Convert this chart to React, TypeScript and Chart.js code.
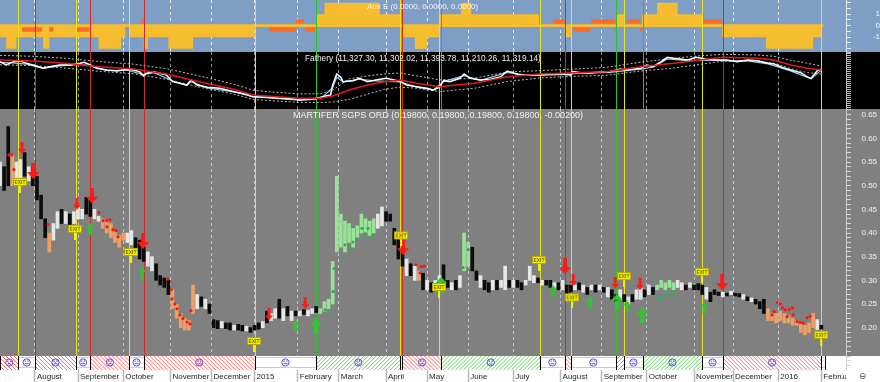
import React, { useEffect, useRef } from 'react';
import { Chart, registerables } from 'chart.js';

Chart.register(...registerables);

const FONT = '"Liberation Sans", Arial, sans-serif';
const AXIS_W = 34;
const X_MIN = 0;
const X_MAX = 412;
const STRIP_H = 14;

// ---------- time axis (trading-day index) ----------
const monthDays = [17, 38, 60, 83, 103, 124, 145, 165, 188, 208, 228, 250, 273, 293, 315, 338, 357, 379, 400];
const monthLabels = ['August', 'September', 'October', 'November', 'December', '2015', 'February', 'March', 'April', 'May', 'June', 'July', 'August', 'September', 'October', 'November', 'December', '2016', 'February'];

// ---------- signal lines ----------
const signalDays = [9, 17, 37, 44, 63, 70, 124, 154, 195, 196, 214, 215, 263, 275, 278, 300, 304, 313, 342, 352, 400];
const signalKinds = ['y', 'r', 'y', 'r', 'y', 'r', 'y', 'g', 'y', 'r', 'y', 'g', 'y', 'r', 'y', 'g', 'y', 'g', 'y', 'r', 'y'];

// ---------- regime strip ----------
const regimeStart = [0, 9, 17, 37, 44, 63, 70, 124, 154, 195, 196, 215, 263, 275, 278, 300, 304, 313, 342, 352, 400];
const regimeEnd = [9, 17, 37, 44, 63, 70, 124, 154, 195, 196, 215, 263, 275, 278, 300, 304, 313, 342, 352, 400, 402];
const regimeKind = ['s', 'n', 's', 'n', 's', 'n', 's', 'n', 'b', 'n', 's', 'b', 'n', 's', 'n', 'b', 'n', 'b', 'n', 's', 'n'];

// ---------- Aux E ----------
const auxStartDays = [0, 3, 8, 21, 24, 48, 59, 61, 63, 70, 72, 82, 94, 124, 154, 158, 185, 195, 196, 202, 208, 214, 224.5, 229.5, 262.5, 275, 278, 300.5, 304, 312.7, 320, 330, 342, 351.7, 373, 396, 400];
const auxValues = [-1, -2, -1, -2, -1, -2, -1, 0, -1, -2, -1, -2, -1, 0, 1, 2, 1, 0, -1, -2, -1, 1, 2, 1, 0, -1, 0, 1, 0, 1, 2, 1, 0, -1, -2, -1, 0];
const auxUpBlocks = [[44, 45], [69, 70], [144, 148], [269.5, 275], [288, 299.5], [305.5, 311.7], [342.5, 351.7]];
const auxDownBlocks = [[10.7, 20.5], [24, 26], [37.5, 43.5], [131, 144], [148.5, 153.5], [279, 287.5], [299.5, 300.5], [311.7, 312.7]];
const AUX_UP = [0.2, 0.56];
const AUX_DOWN = [-0.14, -0.52];

// ---------- Fathery index ----------
const idxDays = [0, 3, 6.5, 10, 13, 16, 21, 24, 29, 34, 39, 41, 44, 47, 52, 57, 62, 65, 68, 70, 71, 75, 81, 84, 91, 93, 96, 101, 107, 114, 120, 123, 130, 136, 143, 146, 153, 157, 161, 162, 164, 166, 167, 172, 175, 179, 183, 188, 192, 195, 198, 203, 208, 211, 214, 216, 219, 224, 226, 229, 234, 239, 244, 247, 248, 253, 258, 263, 268, 273, 278, 279, 283, 287, 292, 297, 302, 305, 312, 315, 318, 322, 325, 328, 331, 335, 339, 344, 349, 354, 359, 364, 369, 374, 377, 380, 385, 390, 393, 395, 398, 400];
const idxClose = [11777, 11607, 11777, 11811, 11692, 11607, 11437, 11522, 11607, 11607, 11692, 11743, 11607, 11437, 11352, 11301, 11386, 11352, 11267, 11046, 11182, 11267, 11097, 10757, 10587, 10842, 10587, 10468, 10417, 10247, 10110, 9991, 9957, 9906, 9872, 9821, 9855, 9991, 10076, 10587, 11148, 10978, 10757, 10808, 10927, 10757, 10842, 10927, 10842, 10757, 10587, 10502, 10417, 10332, 10468, 10808, 10757, 10927, 11148, 10927, 10842, 10876, 11012, 11301, 11267, 11097, 11097, 11097, 11148, 11148, 11097, 11267, 11216, 11182, 11267, 11267, 11403, 11352, 11437, 11607, 11522, 11777, 11998, 11947, 11913, 11862, 11998, 11896, 11862, 11862, 11777, 11862, 11828, 11692, 11658, 11522, 11352, 11216, 11012, 10927, 11318, 11386];
const idxBlueDays = [0, 6, 13, 21, 29, 39, 44, 52, 62, 70, 75, 84, 91, 93, 101, 114, 123, 136, 146, 157, 162, 164, 167, 175, 183, 195, 203, 211, 216, 226, 234, 247, 258, 273, 283, 297, 312, 318, 325, 335, 344, 354, 364, 374, 385, 395, 400];
const idxBlue = [11740, 11720, 11650, 11430, 11560, 11640, 11580, 11330, 11340, 11120, 11220, 10800, 10560, 10760, 10440, 10230, 9990, 9890, 9810, 9960, 10450, 10980, 10750, 10880, 10800, 10740, 10480, 10320, 10760, 11060, 10820, 11230, 11060, 11110, 11190, 11230, 11400, 11500, 11920, 11830, 11860, 11830, 11820, 11660, 11310, 10900, 11350];
const maDays = [0, 16, 32, 49, 65, 81, 97, 114, 123, 130, 146, 156, 162, 170, 179, 187, 195, 203, 214, 231, 247, 263, 279, 295, 312, 328, 341, 352, 369, 377, 385, 393, 400];
const maValues = [11862, 11811, 11692, 11522, 11403, 11148, 10757, 10366, 10076, 10026, 9906, 9906, 10026, 10332, 10587, 10757, 10842, 10672, 10500, 10672, 11012, 11148, 11216, 11267, 11522, 11692, 11862, 11998, 11947, 11862, 11607, 11437, 11352];
const upperBand = [12100, 12050, 11950, 11780, 11650, 11420, 11050, 10620, 10330, 10250, 10130, 10140, 10330, 10900, 11050, 11150, 11200, 11050, 10850, 10930, 11250, 11320, 11400, 11480, 11750, 11950, 12080, 12150, 12120, 12050, 11850, 11700, 11550];
const lowerBand = [11620, 11580, 11450, 11280, 11160, 10880, 10480, 10120, 9860, 9800, 9700, 9690, 9720, 9850, 10120, 10360, 10480, 10420, 10250, 10420, 10760, 10950, 11030, 11080, 11300, 11450, 11640, 11800, 11780, 11700, 11420, 11220, 11150];

// ---------- MARTIFER price bars (one bar per 2 trading days) ----------
const BAR_STEP = 2;
const priceLow = [0.50, 0.49, 0.50, 0.50, 0.51, 0.515, 0.52, 0.51, 0.50, 0.47, 0.43, 0.39, 0.36, 0.385, 0.41, 0.42, 0.42, 0.415, 0.42, 0.43, 0.43, 0.44, 0.435, 0.43, 0.425, 0.41, 0.40, 0.39, 0.38, 0.37, 0.385, 0.38, 0.375, 0.36, 0.345, 0.34, 0.33, 0.32, 0.30, 0.29, 0.285, 0.27, 0.24, 0.22, 0.20, 0.195, 0.195, 0.23, 0.24, 0.245, 0.24, 0.23, 0.20, 0.198, 0.20, 0.198, 0.195, 0.195, 0.195, 0.193, 0.193, 0.19, 0.195, 0.197, 0.20, 0.21, 0.215, 0.22, 0.22, 0.215, 0.225, 0.215, 0.225, 0.225, 0.228, 0.225, 0.23, 0.232, 0.23, 0.235, 0.24, 0.25, 0.36, 0.37, 0.36, 0.38, 0.37, 0.39, 0.40, 0.40, 0.395, 0.40, 0.41, 0.415, 0.425, 0.425, 0.375, 0.345, 0.33, 0.31, 0.31, 0.30, 0.30, 0.28, 0.28, 0.275, 0.28, 0.28, 0.286, 0.285, 0.28, 0.28, 0.285, 0.32, 0.33, 0.32, 0.30, 0.285, 0.28, 0.275, 0.28, 0.28, 0.285, 0.28, 0.285, 0.285, 0.285, 0.28, 0.29, 0.30, 0.295, 0.295, 0.29, 0.29, 0.285, 0.285, 0.28, 0.28, 0.27, 0.275, 0.28, 0.28, 0.275, 0.27, 0.28, 0.275, 0.28, 0.275, 0.265, 0.26, 0.255, 0.26, 0.255, 0.25, 0.255, 0.26, 0.26, 0.265, 0.27, 0.27, 0.28, 0.285, 0.28, 0.285, 0.28, 0.285, 0.28, 0.28, 0.285, 0.28, 0.28, 0.27, 0.26, 0.255, 0.27, 0.268, 0.265, 0.267, 0.27, 0.267, 0.265, 0.26, 0.257, 0.255, 0.25, 0.24, 0.23, 0.215, 0.215, 0.21, 0.215, 0.21, 0.21, 0.205, 0.205, 0.19, 0.185, 0.19, 0.20, 0.196, 0.197];
const priceHigh = [0.55, 0.54, 0.625, 0.565, 0.55, 0.555, 0.57, 0.54, 0.54, 0.52, 0.48, 0.43, 0.40, 0.42, 0.445, 0.45, 0.445, 0.44, 0.445, 0.455, 0.45, 0.475, 0.47, 0.45, 0.435, 0.43, 0.425, 0.42, 0.405, 0.395, 0.40, 0.40, 0.405, 0.39, 0.385, 0.37, 0.36, 0.35, 0.335, 0.31, 0.305, 0.30, 0.28, 0.25, 0.23, 0.22, 0.215, 0.29, 0.27, 0.265, 0.26, 0.25, 0.217, 0.215, 0.213, 0.21, 0.21, 0.205, 0.207, 0.205, 0.203, 0.20, 0.205, 0.21, 0.213, 0.235, 0.23, 0.24, 0.26, 0.24, 0.245, 0.235, 0.235, 0.235, 0.238, 0.237, 0.24, 0.245, 0.24, 0.255, 0.26, 0.34, 0.52, 0.44, 0.425, 0.42, 0.41, 0.415, 0.44, 0.43, 0.425, 0.43, 0.44, 0.455, 0.445, 0.44, 0.41, 0.39, 0.36, 0.345, 0.335, 0.33, 0.32, 0.315, 0.30, 0.295, 0.30, 0.31, 0.333, 0.30, 0.295, 0.30, 0.31, 0.40, 0.38, 0.37, 0.32, 0.31, 0.30, 0.295, 0.30, 0.30, 0.30, 0.33, 0.30, 0.30, 0.30, 0.295, 0.30, 0.33, 0.31, 0.305, 0.30, 0.30, 0.30, 0.295, 0.295, 0.30, 0.29, 0.29, 0.29, 0.295, 0.29, 0.285, 0.29, 0.29, 0.29, 0.285, 0.285, 0.28, 0.27, 0.28, 0.27, 0.265, 0.27, 0.28, 0.285, 0.28, 0.29, 0.285, 0.29, 0.30, 0.295, 0.30, 0.295, 0.30, 0.295, 0.29, 0.295, 0.29, 0.293, 0.29, 0.285, 0.275, 0.28, 0.275, 0.275, 0.273, 0.277, 0.273, 0.272, 0.27, 0.265, 0.263, 0.26, 0.255, 0.26, 0.24, 0.23, 0.23, 0.235, 0.23, 0.225, 0.22, 0.215, 0.21, 0.205, 0.21, 0.23, 0.217, 0.205];
const priceColor = 'wkkowwkwkkkkowwkwkwwwkkwwoooooowwkkkwwkkkkoooooowkwkkkwkkwkkwkkkwkwwkwkwkwkwwkGGGGGGGGGGGGGGwwkkkkkwkwokwkwwkkwkwGGkkwkkwkwwkwkkwwwkwkkwkwkkwkwkwkwkwkkwkwkwwkwkGGGGGwwkwkkkwkkkwkwkkwkwkkkoooooooooooowkk';

// ---------- markers ----------
const redDotDays = [4.4, 5.8, 6.8, 23.4, 48.2, 50.2, 52.1, 53.6, 52.1, 55, 56.5, 57.5, 81.8, 83.3, 83.8, 85.2, 86.2, 87.7, 89.1, 91.1, 92.5, 93, 202.6, 204.6, 205, 206.5, 376, 377, 378.5, 380, 381, 382.4, 383.3, 384.3, 385.8, 386.3, 388.2, 389.7, 391.1, 393.1, 394.5];
const redDotPrices = [0.565, 0.565, 0.534, 0.418, 0.443, 0.426, 0.426, 0.428, 0.413, 0.407, 0.405, 0.392, 0.303, 0.28, 0.261, 0.25, 0.24, 0.227, 0.219, 0.212, 0.208, 0.236, 0.333, 0.316, 0.329, 0.33, 0.227, 0.234, 0.253, 0.25, 0.242, 0.238, 0.223, 0.238, 0.242, 0.227, 0.213, 0.211, 0.21, 0.221, 0.224];
const greenDotDays = [158.3, 160.7, 162.2, 162.7, 167.1, 168, 170.5, 171.9, 173.9, 176.3, 177.8, 179.2, 180.2, 181.7, 225.5, 228, 320.5, 321.5, 323, 325.4, 326.3, 327.8, 329.8];
const greenDotPrices = [0.238, 0.234, 0.276, 0.325, 0.344, 0.375, 0.367, 0.381, 0.388, 0.41, 0.399, 0.41, 0.388, 0.396, 0.327, 0.365, 0.26, 0.263, 0.265, 0.274, 0.27, 0.276, 0.265];
const redSmallDays = [10.7, 37.5, 131, 148.6, 279.1, 299.6, 311.7];
const redSmallPrices = [0.580, 0.462, 0.228, 0.252, 0.301, 0.295, 0.292];
const redBigDays = [16.1, 44.8, 69.7, 196.3, 275.2, 351.7];
const redBigPrices = [0.531, 0.479, 0.383, 0.370, 0.330, 0.296];
const greenSmallDays = [43.8, 69.2, 144.2, 269.4, 287.4, 305.4, 342.9];
const greenSmallPrices = [0.408, 0.315, 0.203, 0.277, 0.253, 0.245, 0.242];
const greenBigDays = [153.9, 214.8, 300.5, 312.7];
const greenBigPrices = [0.203, 0.291, 0.255, 0.226];
const exitDays = [9.7, 36.5, 63.8, 123.7, 195.3, 213.8, 262.5, 278.6, 303.9, 341.9, 399.9];
const exitPrices = [0.508, 0.409, 0.36, 0.172, 0.395, 0.286, 0.343, 0.264, 0.309, 0.318, 0.185];

const barColors: Record<string, string> = { k: '#0c0c0c', w: '#e6e6e6', o: '#eea062', G: '#98e298' };
const sigColors: Record<string, string> = { y: '#e4e41e', r: '#d42a2a', g: '#2ac42a' };

const pts = (xs: number[], ys: number[]) => xs.map((x, i) => ({ x, y: ys[i] }));

function blockSteps(blocks: number[][], lo: number, hi: number) {
  const out: { x: number; y: number }[] = [{ x: X_MIN, y: lo }];
  blocks.forEach(([s, e]) => { out.push({ x: s, y: hi }); out.push({ x: e, y: lo }); });
  out.push({ x: X_MAX, y: lo });
  return out;
}

function makeArrow(color: string, w: number, h: number, shaft: number, head: number, up: boolean) {
  const c = document.createElement('canvas');
  c.width = w; c.height = h;
  const g = c.getContext('2d')!;
  g.fillStyle = color;
  const sx = (w - shaft) / 2;
  g.beginPath();
  if (!up) {
    g.rect(sx, 0, shaft, h - head + 0.5);
    g.moveTo(0, h - head); g.lineTo(w, h - head); g.lineTo(w / 2, h); g.closePath();
  } else {
    g.rect(sx, head - 0.5, shaft, h - head + 0.5);
    g.moveTo(0, head); g.lineTo(w, head); g.lineTo(w / 2, 0); g.closePath();
  }
  g.fill();
  return c;
}

function makeExit() {
  const c = document.createElement('canvas');
  c.width = 14; c.height = 22;
  const g = c.getContext('2d')!;
  g.fillStyle = '#f4f400';
  g.fillRect(6, 14, 2, 8);
  g.fillRect(0, 8, 14, 6);
  g.strokeStyle = '#b8a800';
  g.lineWidth = 1;
  g.strokeRect(0.5, 7.5, 13, 7);
  g.fillStyle = '#7a6a00';
  g.font = `bold 5px ${FONT}`;
  g.textAlign = 'center';
  g.textBaseline = 'middle';
  g.fillText('EXIT', 7, 11.2);
  return c;
}

function drawFace(ctx: CanvasRenderingContext2D, cx: number, cy: number, kind: string) {
  ctx.save();
  ctx.strokeStyle = '#5a4ee8';
  ctx.fillStyle = '#5a4ee8';
  ctx.lineWidth = 1;
  ctx.beginPath(); ctx.arc(cx, cy, 3.6, 0, Math.PI * 2); ctx.stroke();
  ctx.fillRect(cx - 2, cy - 2, 1.2, 1.2);
  ctx.fillRect(cx + 0.8, cy - 2, 1.2, 1.2);
  ctx.beginPath();
  if (kind === 'b') ctx.arc(cx, cy - 0.2, 2, 0.2 * Math.PI, 0.8 * Math.PI);
  else if (kind === 's') ctx.arc(cx, cy + 3, 2, 1.2 * Math.PI, 1.8 * Math.PI);
  else { ctx.moveTo(cx - 2, cy + 1.2); ctx.lineTo(cx + 2, cy + 1.2); }
  ctx.stroke();
  ctx.restore();
}

function drawSignals(chart: any, bottomPad: number) {
  const { ctx, chartArea, scales } = chart;
  const x = scales.x;
  ctx.save();
  ctx.lineWidth = 1;
  signalDays.forEach((d, i) => {
    const px = Math.round(x.getPixelForValue(d)) + 0.5;
    ctx.strokeStyle = sigColors[signalKinds[i]];
    ctx.beginPath();
    ctx.moveTo(px, chartArea.top);
    ctx.lineTo(px, chartArea.bottom - bottomPad);
    ctx.stroke();
  });
  ctx.restore();
}

function drawStrip(chart: any) {
  const { ctx, chartArea, scales } = chart;
  const x = scales.x;
  const top = chartArea.bottom - STRIP_H;
  const bot = chartArea.bottom;
  ctx.save();
  ctx.fillStyle = '#ffffff';
  ctx.fillRect(chartArea.left, top, chartArea.right - chartArea.left, STRIP_H);
  for (let i = 0; i < regimeStart.length; i++) {
    const x0 = x.getPixelForValue(regimeStart[i]);
    const x1 = x.getPixelForValue(regimeEnd[i]);
    const k = regimeKind[i];
    ctx.save();
    ctx.beginPath(); ctx.rect(x0, top, x1 - x0, STRIP_H); ctx.clip();
    ctx.lineWidth = 1;
    ctx.beginPath();
    if (k === 's' || k === 'b') {
      ctx.strokeStyle = k === 's' ? '#ff6a6a' : '#62d262';
      for (let xx = x0 - STRIP_H - 4; xx < x1 + 4; xx += 4) {
        if (k === 's') { ctx.moveTo(xx, top); ctx.lineTo(xx + STRIP_H, bot); }
        else { ctx.moveTo(xx, bot); ctx.lineTo(xx + STRIP_H, top); }
      }
    } else {
      ctx.strokeStyle = '#e6e600';
      ctx.moveTo(x0, top + 1.5); ctx.lineTo(x1, top + 1.5);
      ctx.moveTo(x0, bot - 2.5); ctx.lineTo(x1, bot - 2.5);
    }
    ctx.stroke();
    ctx.restore();
    if (x1 - x0 > 11) drawFace(ctx, (x0 + x1) / 2, (top + bot) / 2 - 0.5, k);
    ctx.fillStyle = '#000000';
    ctx.fillRect(Math.round(x0), top, 1, STRIP_H);
  }
  const xe = x.getPixelForValue(regimeEnd[regimeEnd.length - 1]);
  ctx.fillStyle = '#000000';
  ctx.fillRect(Math.round(xe), top, 1, STRIP_H);
  ctx.restore();
}

const panelPlugin = {
  id: 'panel',
  beforeDraw(chart: any, _a: any, o: any) {
    const { ctx, width, height, chartArea } = chart;
    ctx.save();
    const split = o.strip ? chartArea.bottom - STRIP_H : height;
    ctx.fillStyle = o.bg;
    ctx.fillRect(0, 0, width, split);
    if (o.strip) { ctx.fillStyle = '#ffffff'; ctx.fillRect(0, split, width, height - split); }
    ctx.restore();
  },
  beforeDatasetsDraw(chart: any, _a: any, o: any) {
    if (o.strip) drawStrip(chart);
    if (!o.linesOnTop) drawSignals(chart, o.strip ? STRIP_H : 0);
  },
  afterDatasetsDraw(chart: any, _a: any, o: any) {
    if (o.linesOnTop) drawSignals(chart, 0);
    const { ctx } = chart;
    ctx.save();
    ctx.font = `${o.titleSize}px ${FONT}`;
    ctx.fillStyle = o.titleColor;
    ctx.textAlign = 'left';
    ctx.textBaseline = 'middle';
    ctx.fillText(o.title, o.titleX, o.titleY);
    ctx.restore();
  },
  afterDraw(chart: any, _a: any, o: any) {
    if (!o.strip) return;
    const { ctx, chartArea, width, height } = chart;
    ctx.save();
    ctx.fillStyle = '#ffffff';
    ctx.fillRect(chartArea.right, chartArea.bottom, width - chartArea.right, height - chartArea.bottom);
    ctx.fillStyle = '#505050';
    ctx.font = `9px "DejaVu Sans", ${FONT}`;
    ctx.textAlign = 'center';
    ctx.textBaseline = 'middle';
    ctx.fillText('⊖', 862.5, chartArea.bottom + 6.5);
    ctx.restore();
  },
};

function xAxis(showLabels: boolean, gridColor: string) {
  return {
    type: 'linear',
    min: X_MIN,
    max: X_MAX,
    offset: false,
    afterBuildTicks: (s: any) => { s.ticks = monthDays.map((v) => ({ value: v })); },
    afterFit: (s: any) => { s.paddingLeft = 0; s.paddingRight = 0; s.height = showLabels ? 12 : 0; },
    grid: {
      display: true, drawOnChartArea: true, drawTicks: showLabels, tickLength: 12, offset: false,
      color: gridColor, tickColor: '#b8b8b8', tickWidth: 1.5, tickBorderDash: [], lineWidth: 1,
    },
    border: { display: false, dash: [3, 3] },
    ticks: {
      display: showLabels, autoSkip: false, maxRotation: 0, minRotation: 0, align: 'start',
      labelOffset: 2, padding: -10, color: '#1e1e1e', font: { family: FONT, size: 8 },
      callback: (v: number) => { const i = monthDays.indexOf(v); return i >= 0 ? monthLabels[i] : ''; },
    },
  };
}

function yAxis(min: number, max: number, step: number, label: (v: number) => string, opts: any) {
  return {
    type: 'linear',
    position: 'right',
    min, max,
    afterFit: (s: any) => { s.width = AXIS_W; s.paddingTop = 0; s.paddingBottom = 0; },
    grid: { drawOnChartArea: false, drawTicks: true, tickLength: opts.tickLength, color: opts.tickColor, tickColor: opts.tickColor },
    border: { display: true, color: opts.borderColor },
    ticks: {
      stepSize: step, autoSkip: false, includeBounds: false, padding: opts.padding, crossAlign: opts.crossAlign || 'near',
      color: opts.labelColor, font: { family: FONT, size: 8 }, callback: label,
    },
  };
}

const near = (v: number, m: number) => Math.abs(v / m - Math.round(v / m)) < 1e-6;

const baseOptions = {
  responsive: false,
  maintainAspectRatio: false,
  animation: false,
  devicePixelRatio: 1,
  events: [],
  layout: { padding: 0, autoPadding: false },
};

export default function App() {
  const topRef = useRef<HTMLCanvasElement>(null);
  const midRef = useRef<HTMLCanvasElement>(null);
  const mainRef = useRef<HTMLCanvasElement>(null);

  useEffect(() => {
    document.body.style.margin = '0';
    const charts: Chart[] = [];

    // ---- Aux E panel ----
    charts.push(new Chart(topRef.current!, {
      type: 'line',
      data: {
        datasets: [
          { data: [{ x: X_MIN, y: 0 }, { x: 401, y: 0 }], borderColor: '#f6bd30', borderWidth: 2.6, pointRadius: 0, fill: false },
          { data: blockSteps(auxUpBlocks, AUX_UP[0], AUX_UP[1]), stepped: 'before', borderColor: 'rgba(0,0,0,0)', borderWidth: 0, pointRadius: 0, backgroundColor: '#ff6a26', fill: { value: AUX_UP[0] } },
          { data: blockSteps(auxDownBlocks, AUX_DOWN[0], AUX_DOWN[1]), stepped: 'before', borderColor: 'rgba(0,0,0,0)', borderWidth: 0, pointRadius: 0, backgroundColor: '#ff6a26', fill: { value: AUX_DOWN[0] } },
          { data: pts(auxStartDays, auxValues), stepped: 'before', borderColor: 'rgba(0,0,0,0)', borderWidth: 0, pointRadius: 0, backgroundColor: '#f6bd30', fill: 'origin' },
        ],
      },
      options: {
        ...baseOptions,
        scales: {
          x: xAxis(false, 'rgba(255,255,255,0.8)'),
          y: yAxis(-2.29, 2.23, 0.5, (v: number) => (v === 1 ? '1' : v === 0 ? '0' : v === -1 ? '-1' : ''),
            { tickLength: 5, tickColor: '#e8eef8', borderColor: '#e8eef8', padding: -1, crossAlign: 'far', labelColor: '#f4f6fa' }),
        },
        plugins: {
          legend: { display: false }, tooltip: { enabled: false },
          panel: { bg: '#7e9ec5', strip: false, linesOnTop: true, title: 'Aux E (0.0000, 0.0000, 0.0000)', titleX: 367, titleY: 7, titleSize: 8, titleColor: '#f4f6fa' },
        },
      } as any,
      plugins: [panelPlugin],
    } as any));

    // ---- Fathery panel ----
    charts.push(new Chart(midRef.current!, {
      type: 'line',
      data: {
        datasets: [
          { data: pts(maDays, maValues), borderColor: '#e01a1a', borderWidth: 1.5, pointRadius: 0 },
          { data: pts(idxDays, idxClose), borderColor: '#ffffff', borderWidth: 1.5, pointRadius: 0 },
          { data: pts(idxBlueDays, idxBlue), borderColor: '#8ccaf0', borderWidth: 1.2, pointRadius: 0 },
          { data: pts(maDays, upperBand), borderColor: '#bdbdbd', borderWidth: 1, borderDash: [2, 2], pointRadius: 0 },
          { data: pts(maDays, lowerBand), borderColor: '#bdbdbd', borderWidth: 1, borderDash: [2, 2], pointRadius: 0 },
        ],
      },
      options: {
        ...baseOptions,
        scales: {
          x: xAxis(false, 'rgba(200,200,200,0.75)'),
          y: yAxis(9362, 12270, 100, (v: number) => (near(v, 500) && v >= 10000 && v <= 12000 ? String(v) : ''),
            { tickLength: 5, tickColor: '#bcbcbc', borderColor: '#bcbcbc', padding: 4, labelColor: '#f2f2f2' }),
        },
        plugins: {
          legend: { display: false }, tooltip: { enabled: false },
          panel: { bg: '#000000', strip: false, linesOnTop: false, title: 'Fathery (11,327.30, 11,302.02, 11,393.78, 11,210.26, 11,319.14)', titleX: 305, titleY: 6.5, titleSize: 8.3, titleColor: '#f0f0f0' },
        },
      } as any,
      plugins: [panelPlugin],
    } as any));

    // ---- Price panel ----
    const exitImg = makeExit();
    const redS = makeArrow('#ff1a1a', 8, 12, 3, 5, false);
    const redB = makeArrow('#ff1a1a', 12, 16, 4, 7, false);
    const grS = makeArrow('#2ec82e', 8, 12, 3, 5, true);
    const grB = makeArrow('#2ec82e', 12, 16, 4, 7, true);
    const bars = priceLow.map((lo, i) => ({ x: i * BAR_STEP, y: [lo, priceHigh[i]] }));

    charts.push(new Chart(mainRef.current!, {
      type: 'line',
      data: {
        datasets: [
          { type: 'scatter', data: pts(exitDays, exitPrices), pointStyle: exitImg, pointRadius: 5 },
          { type: 'scatter', data: pts(redBigDays, redBigPrices), pointStyle: redB, pointRadius: 5 },
          { type: 'scatter', data: pts(redSmallDays, redSmallPrices), pointStyle: redS, pointRadius: 5 },
          { type: 'scatter', data: pts(greenBigDays, greenBigPrices), pointStyle: grB, pointRadius: 5 },
          { type: 'scatter', data: pts(greenSmallDays, greenSmallPrices), pointStyle: grS, pointRadius: 5 },
          { type: 'scatter', data: pts(redDotDays, redDotPrices), pointRadius: 1.6, pointBorderWidth: 0, pointBackgroundColor: '#ff1414' },
          { type: 'scatter', data: pts(greenDotDays, greenDotPrices), pointRadius: 1.6, pointBorderWidth: 0, pointBackgroundColor: '#3aa85a' },
          {
            type: 'bar', data: bars, barThickness: 3, borderWidth: 0, grouped: false,
            backgroundColor: (c: any) => barColors[priceColor[c.dataIndex]] || '#e6e6e6',
          },
        ],
      },
      options: {
        ...baseOptions,
        scales: {
          x: xAxis(true, '#c4c4c4'),
          y: yAxis(0.1106, 0.662, 0.01, (v: number) => (near(v, 0.05) && v > 0.19 && v < 0.66 ? v.toFixed(2) : ''),
            { tickLength: 5, tickColor: '#d6d6d6', borderColor: '#d0d0d0', padding: 10.5, labelColor: '#f2f2f2' }),
        },
        plugins: {
          legend: { display: false }, tooltip: { enabled: false },
          panel: { bg: '#808080', strip: true, linesOnTop: false, title: 'MARTIFER SGPS ORD (0.19800, 0.19800, 0.19800, 0.19800, -0.00200)', titleX: 293, titleY: 6.5, titleSize: 9, titleColor: '#f0f0f0' },
        },
      } as any,
      plugins: [panelPlugin],
    } as any));

    return () => charts.forEach((c) => c.destroy());
  }, []);

  return (
    <div style={{ position: 'fixed', left: 0, top: 0, width: 880, height: 382, background: '#ffffff', overflow: 'hidden' }}>
      <canvas ref={topRef} width={880} height={52} style={{ position: 'absolute', left: 0, top: 0, width: 880, height: 52 }} />
      <canvas ref={midRef} width={880} height={57} style={{ position: 'absolute', left: 0, top: 52, width: 880, height: 57 }} />
      <canvas ref={mainRef} width={880} height={273} style={{ position: 'absolute', left: 0, top: 109, width: 880, height: 273 }} />
    </div>
  );
}
